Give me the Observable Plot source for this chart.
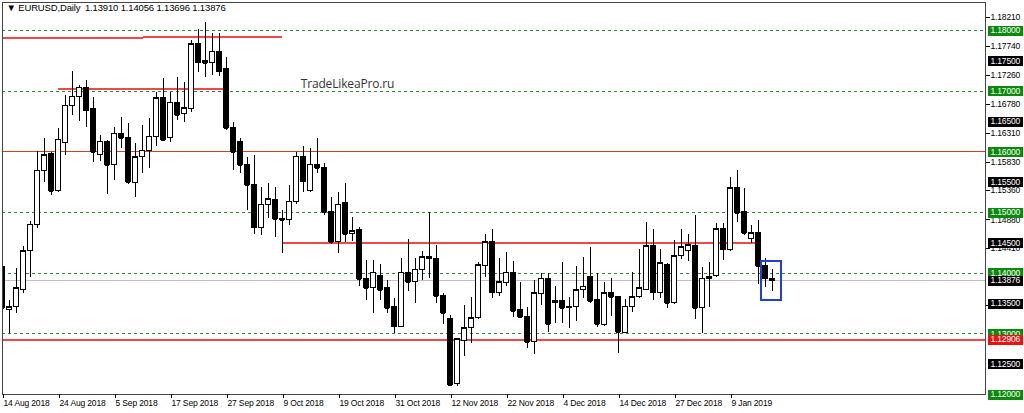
<!DOCTYPE html>
<html><head><meta charset="utf-8">
<script src="https://cdn.jsdelivr.net/npm/d3@7"></script>
<script src="https://cdn.jsdelivr.net/npm/@observablehq/plot@0.6"></script>
<style>
html,body{margin:0;padding:0;background:#fff;overflow:hidden;}
svg{display:block;}
svg text{letter-spacing:-0.15px;}
</style></head><body><div id="chart"></div>
<script>
// ---- data (EURUSD daily) ----
const opens = [1.1410,1.1340,1.1344,1.1373,1.1436,1.1479,1.1569,1.1596,1.1535,1.1614,
1.1676,1.1691,1.1706,1.1670,1.1594,1.1617,1.1578,1.1630,1.1622,1.1548,
1.1591,1.1602,1.1624,1.1688,1.1622,1.1681,1.1663,1.1670,1.1777,1.1749,
1.1747,1.1765,1.1737,1.1639,1.1616,1.1578,1.1546,1.1475,1.1513,1.1520,
1.1489,1.1487,1.1518,1.1592,1.1536,1.1579,1.1573,1.1500,1.1451,1.1515,
1.1464,1.1471,1.1390,1.1375,1.1396,1.1375,1.1344,1.1312,1.1401,1.1385,
1.1406,1.1426,1.1424,1.1362,1.1324,1.1217,1.1289,1.1309,1.1326,1.1411,
1.1452,1.1368,1.1383,1.1401,1.1340,1.1327,1.1286,1.1365,1.1391,1.1350,
1.1354,1.1344,1.1344,1.1372,1.1393,1.1355,1.1314,1.1367,1.1360,1.1301,
1.1345,1.1360,1.1373,1.1444,1.1368,1.1413,1.1350,1.1429,1.1436,1.1444,
1.1342,1.1391,1.1395,1.1472,1.1439,1.1541,1.1500,1.1457,1.1467,1.1411,
1.13910];
const highs = [1.1429,1.1355,1.1408,1.1444,1.1485,1.1601,1.1622,1.1599,1.1639,1.1693,
1.1732,1.1709,1.1718,1.1690,1.1627,1.1619,1.1640,1.1657,1.1647,1.1614,
1.1644,1.1655,1.1698,1.1721,1.1698,1.1723,1.1714,1.1784,1.1802,1.1813,
1.1795,1.1795,1.1756,1.1648,1.1622,1.1591,1.1594,1.1541,1.1548,1.1541,
1.1504,1.1545,1.1599,1.1609,1.1606,1.1622,1.1581,1.1525,1.1533,1.1548,
1.1492,1.1476,1.1421,1.1421,1.1415,1.1388,1.1359,1.1424,1.1456,1.1424,
1.1436,1.1500,1.1446,1.1367,1.1331,1.1291,1.1347,1.1360,1.1418,1.1464,
1.1472,1.1424,1.1434,1.1419,1.1385,1.1344,1.1388,1.1400,1.1400,1.1378,
1.1418,1.1360,1.1411,1.1426,1.1443,1.1400,1.1385,1.1391,1.1362,1.1357,
1.1401,1.1439,1.1484,1.1472,1.1439,1.1416,1.1454,1.1472,1.1464,1.1495,
1.1410,1.1418,1.1482,1.1482,1.1558,1.1569,1.1540,1.1479,1.1487,1.1424,
1.14056];
const lows = [1.1331,1.1301,1.1334,1.1367,1.1393,1.1474,1.1550,1.1528,1.1533,1.1594,
1.1660,1.1650,1.1640,1.1583,1.1584,1.1530,1.1553,1.1606,1.1546,1.1525,
1.1564,1.1573,1.1609,1.1617,1.1616,1.1652,1.1648,1.1665,1.1731,1.1723,
1.1726,1.1724,1.1635,1.1569,1.1564,1.1503,1.1464,1.1462,1.1490,1.1459,
1.1433,1.1479,1.1513,1.1533,1.1533,1.1564,1.1495,1.1447,1.1433,1.1451,
1.1452,1.1378,1.1355,1.1334,1.1355,1.1334,1.1301,1.1312,1.1370,1.1350,
1.1388,1.1391,1.1350,1.1316,1.1214,1.1214,1.1263,1.1284,1.1324,1.1393,
1.1359,1.1362,1.1378,1.1327,1.1326,1.1276,1.1266,1.1347,1.1302,1.1317,
1.1317,1.1309,1.1321,1.1358,1.1350,1.1311,1.1312,1.1329,1.1268,1.1301,
1.1335,1.1358,1.1372,1.1355,1.1358,1.1342,1.1348,1.1423,1.1419,1.1324,
1.1301,1.1344,1.1393,1.1421,1.1436,1.1484,1.1462,1.1449,1.1382,1.1377,
1.13696];
const closes = [1.1342,1.1344,1.1375,1.1436,1.1480,1.1569,1.1594,1.1535,1.1620,1.1676,
1.1691,1.1706,1.1668,1.1599,1.1617,1.1578,1.1630,1.1622,1.1550,1.1591,
1.1602,1.1625,1.1688,1.1619,1.1681,1.1660,1.1672,1.1777,1.1747,1.1746,
1.1765,1.1732,1.1639,1.1599,1.1578,1.1545,1.1475,1.1513,1.1522,1.1489,
1.1487,1.1518,1.1592,1.1551,1.1579,1.1573,1.1500,1.1451,1.1513,1.1464,
1.1469,1.1390,1.1375,1.1401,1.1372,1.1342,1.1312,1.1401,1.1385,1.1406,
1.1426,1.1424,1.1362,1.1334,1.1215,1.1291,1.1309,1.1326,1.1413,1.1451,
1.1368,1.1385,1.1401,1.1337,1.1327,1.1286,1.1367,1.1391,1.1316,1.1354,
1.1342,1.1343,1.1372,1.1378,1.1354,1.1316,1.1367,1.1360,1.1303,1.1345,
1.1360,1.1375,1.1444,1.1368,1.1416,1.1350,1.1428,1.1443,1.1446,1.1342,
1.1391,1.1393,1.1472,1.1439,1.1540,1.1499,1.1466,1.1466,1.1411,1.1391,
1.13876];

const dateTickIndex = [0,8,16,24,32,40,48,56,64,72,80,88,96,104];
const dateTickLabels = ["14 Aug 2018","24 Aug 2018","5 Sep 2018","17 Sep 2018","27 Sep 2018","9 Oct 2018","19 Oct 2018","31 Oct 2018","12 Nov 2018","22 Nov 2018","4 Dec 2018","14 Dec 2018","27 Dec 2018","9 Jan 2019"];
const priceTicks = [1.18210,1.17740,1.17260,1.16780,1.16310,1.15830,1.15360,1.14880,1.14410,1.13460];

const greenLevels = [1.18,1.17,1.15,1.14,1.13,1.12];
const brownLevels = [1.16];
const greenLabels = [1.18,1.17,1.16,1.15,1.14,1.13,1.12];
const blackLabels = [1.175,1.165,1.155,1.145,1.135,1.125];
const supportLevel = 1.12906;
const lastPrice = 1.13876;
const redSegments = [
  {from:-1, to:20.1, price:1.17873},
  {from:20.1, to:40, price:1.17896},
  {from:8, to:32.1, price:1.17028},
  {from:40, to:108, price:1.14491}
];
const highlight = [{from:108.4, to:111.3, lo:1.13552, hi:1.14194}];
const symbolName = "EURUSD,Daily";
const watermark = [{i:42.6, price:1.1711, text:"TradeLikeaPro.ru"}];

// ---- build ----
const candles = opens.map((o,i)=>({i, open:o, high:highs[i], low:lows[i], close:closes[i]}));
const last = candles[candles.length-1];
const header = `\u25BC ${symbolName}\u2002${last.open.toFixed(5)} ${last.high.toFixed(5)} ${last.low.toFixed(5)} ${last.close.toFixed(5)}`;
const F = '"Liberation Sans",Arial,sans-serif';
const FS = 8.5;
const half = 0.31;
const RED = "#ee4848";

const boxText = (data, tag) => Plot.text(data, {y: d => d, text: d => d.toFixed(5), frameAnchor: "right", dx: 5,
  textAnchor: "start", fill: "#fff", fontSize: FS, ariaDescription: tag});

const plot = Plot.plot({
  width: 1024, height: 413,
  marginLeft: 2, marginRight: 39, marginTop: 2, marginBottom: 19,
  style: {fontFamily: F, fontSize: FS + "px", background: "#fff", color: "#000"},
  x: {type: "linear", domain: [0, 140.43]},
  y: {domain: [1.12, 1.184613]},
  marks: [
    Plot.ruleY([lastPrice], {stroke: "#c0c0c0"}),
    Plot.ruleY(greenLevels, {stroke: "#2e8b2e", strokeDasharray: "3,3"}),
    Plot.ruleY(brownLevels, {stroke: "#c4461a"}),
    Plot.ruleY([supportLevel], {stroke: RED, strokeWidth: 2}),
    Plot.ruleY(redSegments, {y: "price", x1: "from", x2: "to", stroke: RED, strokeWidth: 2, clip: true}),
    Plot.ruleX(candles, {x: "i", y1: "low", y2: "high", stroke: "#000", clip: true}),
    Plot.rect(candles, {x1: d => d.i - half, x2: d => d.i + half, y1: "open", y2: "close",
      fill: d => d.close < d.open ? "#000" : "#fff", stroke: "#000", clip: true}),
    Plot.ruleY(candles, {y: "close", x1: d => d.i - half, x2: d => d.i + half, stroke: "#000", clip: true}),
    Plot.rect(highlight, {x1: "from", x2: "to", y1: "lo", y2: "hi", fill: "none", stroke: "#1f3fd6", strokeWidth: 2}),
    Plot.text(watermark, {x: "i", y: "price", text: "text", textAnchor: "start", fill: "#333", fontSize: 12, fontFamily: '"Open Sans",sans-serif'}),
    Plot.text([header], {frameAnchor: "top-left", dx: 4, dy: 2, fontSize: 9.5, fill: "#000"}),
    Plot.frame({stroke: "#444"}),
    Plot.axisX({ticks: dateTickIndex, tickFormat: d => dateTickLabels[dateTickIndex.indexOf(d)],
      anchor: "bottom", textAnchor: "start", tickSize: 4, tickPadding: 1, dx: 1, fontSize: FS, label: null}),
    Plot.axisY({ticks: priceTicks, tickFormat: d => d.toFixed(5), anchor: "right",
      tickSize: 4, tickPadding: 1, fontSize: FS, label: null}),
    boxText(blackLabels, "box-black"),
    boxText(greenLabels, "box-green"),
    boxText([supportLevel], "box-red"),
    boxText([lastPrice], "box-last")
  ]
});
document.getElementById("chart").append(plot);
plot.style.shapeRendering = "crispEdges";

function addBoxes(tag, bg) {
  plot.querySelectorAll(`g[aria-description="${tag}"] text`).forEach(t => {
    const b = t.getBBox();
    const r = document.createElementNS("http://www.w3.org/2000/svg", "rect");
    r.setAttribute("x", b.x - 2.5); r.setAttribute("y", b.y + 0.5);
    r.setAttribute("width", b.width + 5); r.setAttribute("height", b.height);
    r.setAttribute("fill", bg);
    const tr = t.getAttribute("transform"); if (tr) r.setAttribute("transform", tr);
    t.parentNode.insertBefore(r, t);
  });
}
addBoxes("box-black", "#000");
addBoxes("box-green", "#0a8a0a");
addBoxes("box-red", "#f01010");
addBoxes("box-last", "#000");
</script></body></html>
